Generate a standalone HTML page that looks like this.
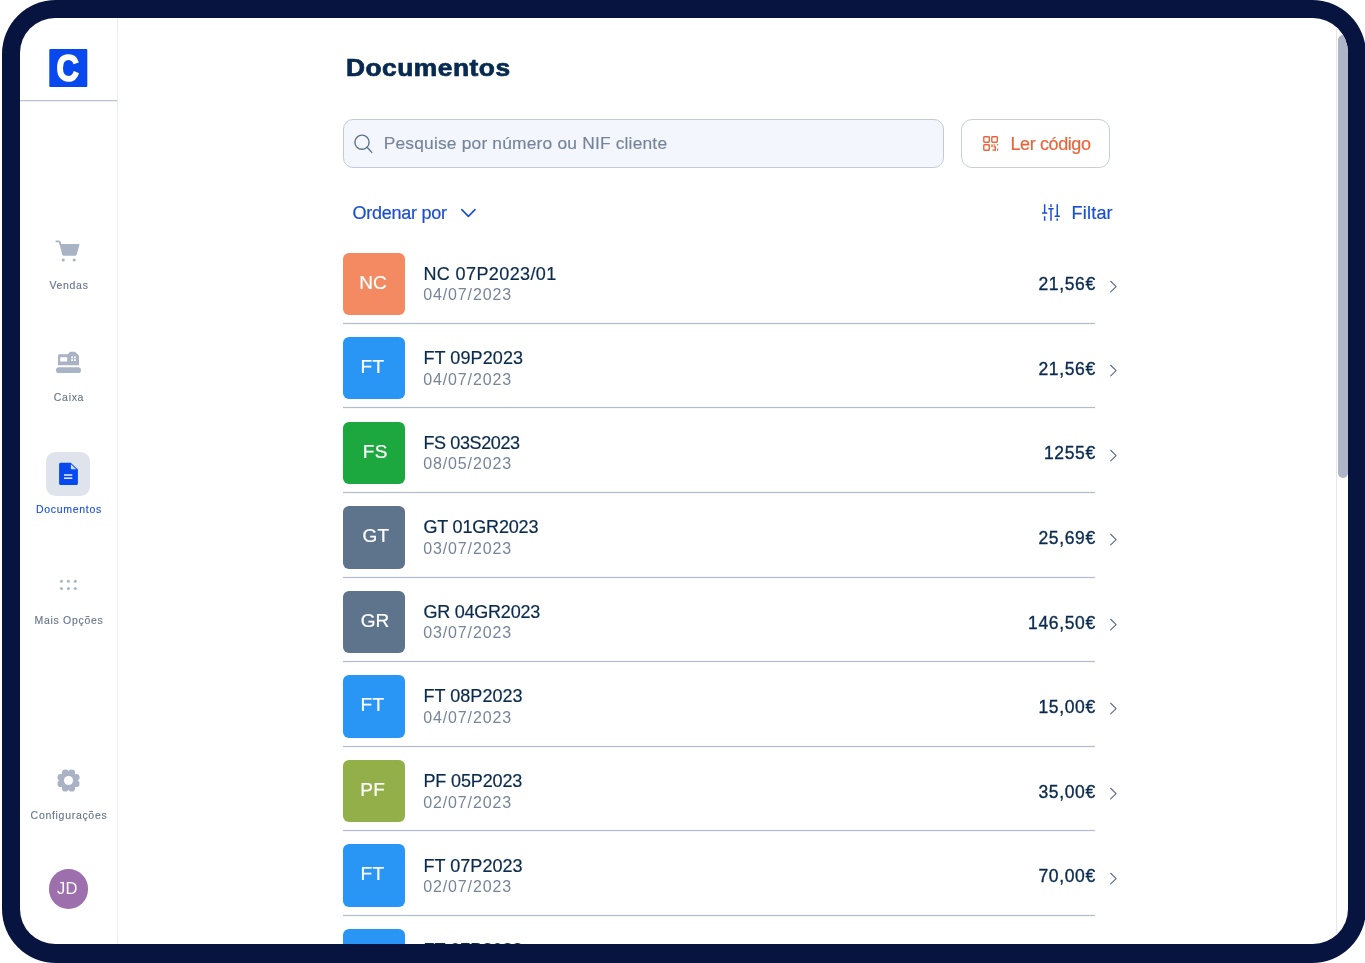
<!DOCTYPE html>
<html lang="pt">
<head>
<meta charset="utf-8">
<title>Documentos</title>
<style>
*{box-sizing:border-box;margin:0;padding:0}
html,body{width:1365px;height:963px;overflow:hidden;background:#fff}
body{font-family:"Liberation Sans",sans-serif;position:relative;color:#0a2a4e}
.frame{position:absolute;left:2px;top:0;width:1364px;height:962.5px;border-radius:54px;background:#06143f}
.screen{position:absolute;left:20px;top:18px;width:1328px;height:926px;border-radius:35px;background:#fff;overflow:hidden}
.page{position:absolute;left:-20px;top:-18px;width:1365px;height:963px}
.page *{position:absolute}
.sideline-v{left:117px;top:18px;width:1px;height:930px;background:#ecedf1}
.sideline-h{left:20px;top:100px;width:97px;height:1px;background:#bdc2ce;box-shadow:0 1px 0 rgba(189,194,206,.28)}
.logo{left:49px;top:49px;width:38px;height:38px;transform:translate(.3px,0);background:#0849ef;border-radius:1px}
.nav{left:20px;width:98px;text-align:center;font-size:10.5px;letter-spacing:.7px;color:#66758c;white-space:nowrap;line-height:12px;-webkit-text-stroke:.12px currentColor}
.nav.on{color:#1b4fd8}
.activebox{left:46.2px;top:452px;width:44.3px;height:44.2px;border-radius:9.5px;background:#dfe3ec}
.avatar{left:48.7px;top:869px;width:39.8px;height:39.8px;border-radius:50%;background:#9e6fad;color:#fff;font-size:16.5px;line-height:39px;text-align:center;text-indent:-2.6px;letter-spacing:.2px}
.sb-track{left:1335.5px;top:18px;width:1.5px;height:930px;background:#e4e7ec}
.sb-thumb{left:1337.9px;top:35px;width:9.8px;height:443.3px;border-radius:5px;background:#adb5c7}
h1{left:346.3px;top:52.4px;font-size:23.1px;line-height:32px;font-weight:700;color:#062a50;white-space:nowrap;letter-spacing:.45px;transform-origin:0 50%;transform:scaleX(1.14);-webkit-text-stroke:.7px #062a50}
.search{left:343px;top:119px;width:600.6px;height:48.7px;border:1px solid #c3cad6;border-radius:10px;background:#f3f6fc}
.ph{left:383.7px;top:132.3px;font-size:17.4px;line-height:22px;color:#75849a;white-space:nowrap;letter-spacing:.18px;-webkit-text-stroke:.15px #75849a}
.btn{left:961px;top:118.8px;width:149px;height:49.4px;border:1px solid #c9ced6;border-radius:11px;background:#fff}
.btn-t{left:1010.5px;top:133px;font-size:18px;line-height:22px;color:#e8663d;white-space:nowrap;letter-spacing:-.4px;-webkit-text-stroke:.2px #e8663d}
.lnk{font-size:18px;line-height:22px;color:#1b4fd0;white-space:nowrap;-webkit-text-stroke:.2px #1b4fd0}
.row{left:343px;width:780px;height:84.54px}
.badge{left:0;top:0;width:62.4px;height:62.4px;border-radius:6px;color:#fff;font-size:19px;line-height:59.6px;text-align:center;-webkit-text-stroke:.2px #fff;letter-spacing:.2px;padding-right:2.2px}
.t{left:80.4px;top:10.3px;font-size:18px;line-height:22px;color:#0a2a4e;white-space:nowrap;letter-spacing:.05px;-webkit-text-stroke:.2px #0a2a4e}
.d{left:80.3px;top:32.8px;font-size:16px;line-height:20px;color:#77859a;white-space:nowrap;letter-spacing:.85px}
.a{right:27.2px;top:20.9px;font-size:17.5px;line-height:22px;color:#0a2a4e;white-space:nowrap;text-align:right;letter-spacing:.65px;-webkit-text-stroke:.35px #0a2a4e}
.sep{left:0;top:70.4px;width:752px;height:1px;background:#b4bccb;box-shadow:0 -1px 0 rgba(180,188,203,.12),0 1px 0 rgba(180,188,203,.12)}
.chev{left:766px;top:27.3px;width:9px;height:13px}
.c-nc{background:#f38a62}.c-ft{background:#2996f6}.c-fs{background:#1ca83f}.c-gt{background:#5d748c}.c-pf{background:#93af49}
</style>
</head>
<body>
<div class="frame"></div>
<div class="screen"><div class="page">
<!--SIDEBAR-->
<div class="sideline-v"></div>
<div class="sideline-h"></div>
<div class="logo"><span style="left:3.600px;top:-0.900px;width:29px;text-align:center;font-size:37px;line-height:42px;font-weight:700;color:#fff;-webkit-text-stroke:1.600px #fff;transform:scaleX(.84)">C</span></div>

<svg style="left:54px;top:239px" width="28" height="25" viewBox="0 0 28 25"><path d="M2.300 2.300h2.400c.6 0 1 .4 1.200 1l.5 2.200" fill="none" stroke="#a9b3c5" stroke-width="1.8" stroke-linecap="round" stroke-linejoin="round"/><path d="M5.6 5h19c.6 0 1 .5.8 1.100l-2.800 9.600c-.2.700-.8 1.100-1.500 1.100H9.600c-.7 0-1.300-.5-1.500-1.200z" fill="#a9b3c5"/><circle cx="9.200" cy="21" r="1.600" fill="#a9b3c5"/><circle cx="20.200" cy="21" r="1.600" fill="#a9b3c5"/></svg>
<div class="nav" style="top:279.400px">Vendas</div>

<svg style="left:55px;top:350px" width="28" height="25" viewBox="0 0 28 25"><path fill="#a9b3c5" fill-rule="evenodd" d="M4.500 4.300h8.700c.3-1.500 1.600-2.500 3.100-2.500h3.200c.5 0 1 .2 1.300.6l2.600 2.600c.4.400.6.900.6 1.400v8.900h-21V5.800c0-.8.700-1.500 1.500-1.500zM5.200 7.200h7v4.400h-7zM16.200 6.400h1.800v1.800h-1.800zM19 6.400h1.800v1.800H19zM16.200 9.300h1.800v1.800h-1.800zM19 9.300h1.800v1.800H19z"/><rect x="1" y="17.300" width="25" height="5.800" rx="2.900" fill="#a9b3c5"/></svg>
<div class="nav" style="top:390.700px">Caixa</div>

<div class="activebox"></div>
<svg style="left:58px;top:461px" width="22" height="26" viewBox="0 0 22 26"><path fill="#0849ef" d="M2.600 1.800h10.100l7.200 6.700v13.900c0 .8-.7 1.500-1.500 1.500H2.600c-.8 0-1.500-.7-1.500-1.500V3.300c0-.8.700-1.500 1.500-1.500z"/><path fill="#cfe0ff" d="M12.900 3.300l5.300 5h-4.300c-.6 0-1-.4-1-1z"/><rect x="6" y="13.200" width="8.300" height="1.600" fill="#dbe7ff"/><rect x="6" y="16.400" width="8.300" height="1.600" fill="#dbe7ff"/></svg>
<div class="nav on" style="top:502.600px">Documentos</div>

<svg style="left:58px;top:577px" width="22" height="16" viewBox="0 0 22 16"><g fill="#a9b3c5"><circle cx="3.500" cy="4.300" r="1.500"/><circle cx="10.400" cy="4.300" r="1.500"/><circle cx="17.300" cy="4.300" r="1.500"/><circle cx="3.500" cy="11.600" r="1.500"/><circle cx="10.400" cy="11.600" r="1.500"/><circle cx="17.300" cy="11.600" r="1.500"/></g></svg>
<div class="nav" style="top:613.700px">Mais Opções</div>

<svg style="left:55.800px;top:767.700px" width="25" height="25" viewBox="-12.500 -12.500 25 25"><g fill="#a9b3c5"><circle r="9.200"/><circle cx="7.67" cy="3.18" r="3.400"/><circle cx="3.18" cy="7.67" r="3.400"/><circle cx="-3.18" cy="7.67" r="3.400"/><circle cx="-7.67" cy="3.18" r="3.400"/><circle cx="-7.67" cy="-3.18" r="3.400"/><circle cx="-3.18" cy="-7.67" r="3.400"/><circle cx="3.18" cy="-7.67" r="3.400"/><circle cx="7.67" cy="-3.18" r="3.400"/></g><circle r="4.550" fill="#fff"/></svg>
<div class="nav" style="top:808.800px">Configurações</div>

<div class="avatar">JD</div>
<div class="sb-track"></div>
<div class="sb-thumb"></div>
<!--MAIN-->
<h1>Documentos</h1>
<div class="search"></div>
<svg style="left:353px;top:134px" width="21" height="21" viewBox="0 0 21 21"><circle cx="9" cy="8.200" r="7.100" fill="none" stroke="#617187" stroke-width="1.400"/><path d="M14.100 13.300l4.700 5.100" stroke="#617187" stroke-width="1.400" stroke-linecap="round"/></svg>
<div class="ph">Pesquise por número ou NIF cliente</div>
<div class="btn"></div>
<svg style="left:982px;top:135px" width="18" height="17" viewBox="0 0 18 17"><g fill="none" stroke="#e8663d" stroke-width="1.400"><rect x="1.800" y="1.700" width="5.500" height="5.500" rx=".7"/><rect x="9.800" y="1.700" width="5.500" height="5.500" rx=".7"/><rect x="1.800" y="9.700" width="5.500" height="5.500" rx=".7"/></g><g fill="#e8663d"><rect x="9.300" y="9.300" width="1.400" height="2.800"/><rect x="11.600" y="9.300" width="1.400" height="1.400"/><rect x="11.600" y="11.200" width="2.400" height="1.300"/><rect x="12.700" y="11.200" width="1.300" height="4.500"/><rect x="10.400" y="14.400" width="3.600" height="1.300"/><rect x="14.900" y="9.100" width="1.300" height="1.300"/><rect x="15" y="13.600" width="1.200" height="2.100"/></g></svg>
<div class="btn-t">Ler código</div>
<div class="lnk" style="left:352.500px;top:201.500px;letter-spacing:-.25px">Ordenar por</div>
<svg style="left:459px;top:206px" width="19" height="14" viewBox="0 0 19 14"><path d="M2.800 3.600l6.600 6.800 6.600-6.800" fill="none" stroke="#1b4fd0" stroke-width="1.600" stroke-linecap="round" stroke-linejoin="round"/></svg>
<svg style="left:1040px;top:203px" width="22" height="20" viewBox="0 0 22 20"><g stroke="#1b4fd0" stroke-width="1.500" fill="none"><path d="M4.650 1.200v8.700M4.650 13.200v4.600M2 9.900h5.300"/><path d="M11 1.200v2.900M11 5.800v12M8.350 5.800h5.300"/><path d="M17.250 1.200v12M17.250 15.600v2.200M14.600 13.200h5.300"/></g></svg>
<div class="lnk" style="left:1071.600px;top:201.500px;letter-spacing:.2px">Filtar</div>
<div class="row" style="top:252.50px"><div class="badge c-nc" style="padding-right:2.200px">NC</div><div class="t" style="letter-spacing:.4px">NC 07P2023/01</div><div class="d">04/07/2023</div><div class="a">21,56€</div><svg class="chev" viewBox="0 0 9 13"><path d="M1.700 1.300l5.400 5.300-5.400 5.300" fill="none" stroke="#5f6e84" stroke-width="1.200" stroke-linecap="round" stroke-linejoin="round"/></svg><div class="sep"></div></div>
<div class="row" style="top:337.04px"><div class="badge c-ft" style="padding-right:3.600px">FT</div><div class="t" style="letter-spacing:.1px">FT 09P2023</div><div class="d">04/07/2023</div><div class="a">21,56€</div><svg class="chev" viewBox="0 0 9 13"><path d="M1.700 1.300l5.400 5.300-5.400 5.300" fill="none" stroke="#5f6e84" stroke-width="1.200" stroke-linecap="round" stroke-linejoin="round"/></svg><div class="sep"></div></div>
<div class="row" style="top:421.58px"><div class="badge c-fs" style="padding:0 0 0 2px">FS</div><div class="t" style="letter-spacing:-.38px">FS 03S2023</div><div class="d">08/05/2023</div><div class="a">1255€</div><svg class="chev" viewBox="0 0 9 13"><path d="M1.700 1.300l5.400 5.300-5.400 5.300" fill="none" stroke="#5f6e84" stroke-width="1.200" stroke-linecap="round" stroke-linejoin="round"/></svg><div class="sep"></div></div>
<div class="row" style="top:506.12px"><div class="badge c-gt" style="padding:0 0 0 3.600px">GT</div><div class="t" style="letter-spacing:-.17px">GT 01GR2023</div><div class="d">03/07/2023</div><div class="a">25,69€</div><svg class="chev" viewBox="0 0 9 13"><path d="M1.700 1.300l5.400 5.300-5.400 5.300" fill="none" stroke="#5f6e84" stroke-width="1.200" stroke-linecap="round" stroke-linejoin="round"/></svg><div class="sep"></div></div>
<div class="row" style="top:590.66px"><div class="badge c-gt" style="padding:0 0 0 1.800px">GR</div><div class="t" style="letter-spacing:-.22px">GR 04GR2023</div><div class="d">03/07/2023</div><div class="a">146,50€</div><svg class="chev" viewBox="0 0 9 13"><path d="M1.700 1.300l5.400 5.300-5.400 5.300" fill="none" stroke="#5f6e84" stroke-width="1.200" stroke-linecap="round" stroke-linejoin="round"/></svg><div class="sep"></div></div>
<div class="row" style="top:675.20px"><div class="badge c-ft" style="padding-right:3.600px">FT</div><div class="t">FT 08P2023</div><div class="d">04/07/2023</div><div class="a">15,00€</div><svg class="chev" viewBox="0 0 9 13"><path d="M1.700 1.300l5.400 5.300-5.400 5.300" fill="none" stroke="#5f6e84" stroke-width="1.200" stroke-linecap="round" stroke-linejoin="round"/></svg><div class="sep"></div></div>
<div class="row" style="top:759.74px"><div class="badge c-pf" style="padding-right:3px">PF</div><div class="t" style="letter-spacing:-.13px">PF 05P2023</div><div class="d">02/07/2023</div><div class="a">35,00€</div><svg class="chev" viewBox="0 0 9 13"><path d="M1.700 1.300l5.400 5.300-5.400 5.300" fill="none" stroke="#5f6e84" stroke-width="1.200" stroke-linecap="round" stroke-linejoin="round"/></svg><div class="sep"></div></div>
<div class="row" style="top:844.28px"><div class="badge c-ft" style="padding-right:3.600px">FT</div><div class="t">FT 07P2023</div><div class="d">02/07/2023</div><div class="a">70,00€</div><svg class="chev" viewBox="0 0 9 13"><path d="M1.700 1.300l5.400 5.300-5.400 5.300" fill="none" stroke="#5f6e84" stroke-width="1.200" stroke-linecap="round" stroke-linejoin="round"/></svg><div class="sep"></div></div>
<div class="row" style="top:928.82px"><div class="badge c-ft" style="padding-right:3.600px">FT</div><div class="t">FT 07P2023</div><div class="d">01/07/2023</div><div class="a">12,50€</div><svg class="chev" viewBox="0 0 9 13"><path d="M1.700 1.300l5.400 5.300-5.400 5.300" fill="none" stroke="#5f6e84" stroke-width="1.200" stroke-linecap="round" stroke-linejoin="round"/></svg><div class="sep"></div></div>
</div></div>
</body>
</html>
